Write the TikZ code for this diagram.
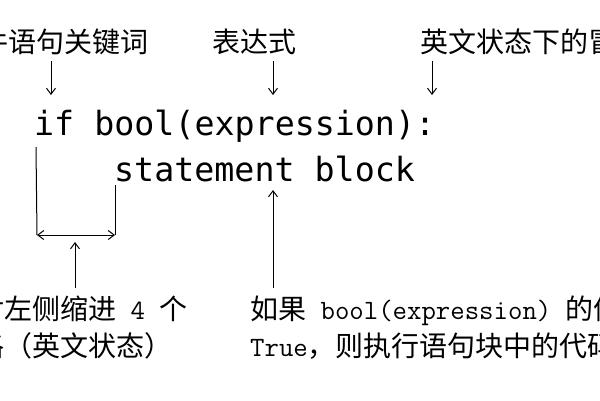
\documentclass[tikz,border=0pt]{standalone}
\usepackage{fontspec}
\newfontfamily\cjk{Noto Sans CJK SC}
\newfontfamily\codefont{DejaVu Sans Mono}
\newfontfamily\latinmono{Latin Modern Mono}
\usetikzlibrary{arrows.meta}

\newcommand{\lm}[1]{{\latinmono\fontsize{28}{37}\selectfont #1}}

\tikzset{
  note/.style={inner sep=0pt, font=\fontsize{28}{37}\selectfont},
  code/.style={inner sep=0pt, anchor=base west, font=\fontsize{33.3}{40}\codefont},
  arr/.style={line width=1pt, -{Straight Barb[length=6pt,width=9pt]}},
  bar/.style={line width=1pt}
}

\begin{document}
\begin{tikzpicture}[x=1pt,y=-1pt]
  \clip (0,0) rectangle (600,400);
  \useasboundingbox (0,0) rectangle (600,400);

  % labels above the code
  \node[note] (kw) at (51,42) {\cjk 条件语句关键词};
  \node[note] (expr) at (254,42) {\cjk 表达式};
  \node[note, anchor=west] (colon) at (420,42) {\cjk 英文状态下的冒号};

  % the two code lines
  \node[code] (line1) at (34,135) {if bool(expression):};
  \node[code] (line2) at (114,181) {statement block};

  % labels below the code
  \node[note, anchor=north west, align=left] (indent) at (-52,296)
    {{\cjk 相对左侧缩进}\lm{\ 4\ }{\cjk 个}\\{\cjk 空格（英文状态）}};
  \node[note, anchor=north west, align=left] (cond) at (250,296)
    {{\cjk 如果}\lm{\ bool(expression)\ }{\cjk 的值为}\\\lm{True}{\cjk ，则执行语句块中的代码}};

  \coordinate (kwtip) at (51,95);
  \coordinate (exprtip) at (273,95);
  \coordinate (colontip) at (432,95);
  \coordinate (indleft) at (37,235);
  \coordinate (indright) at (115,235);
  \coordinate (indtip) at (75,242);
  \coordinate (condtip) at (273,190);

  \draw[arr] (kwtip |- kw.south) ++(0,6) -- (kwtip);
  \draw[arr] (exprtip |- expr.south) ++(0,6) -- (exprtip);
  \draw[arr] (colontip |- colon.south) ++(0,6) -- (colontip);

  % indent bracket
  \draw[bar] ([xshift=2pt,yshift=-12pt]line1.base west) -- (indleft);
  \draw[bar] ([xshift=1pt,yshift=-4pt]line2.base west) -- (indright);
  \draw[arr, {Straight Barb[length=6pt,width=9pt]}-{Straight Barb[length=6pt,width=9pt]}] (indleft) -- (indright);

  \draw[arr] (indtip |- indent.north) ++(0,-8) -- (indtip);
  \draw[arr] (condtip |- cond.north) ++(0,-8) -- (condtip);
\end{tikzpicture}
\end{document}
